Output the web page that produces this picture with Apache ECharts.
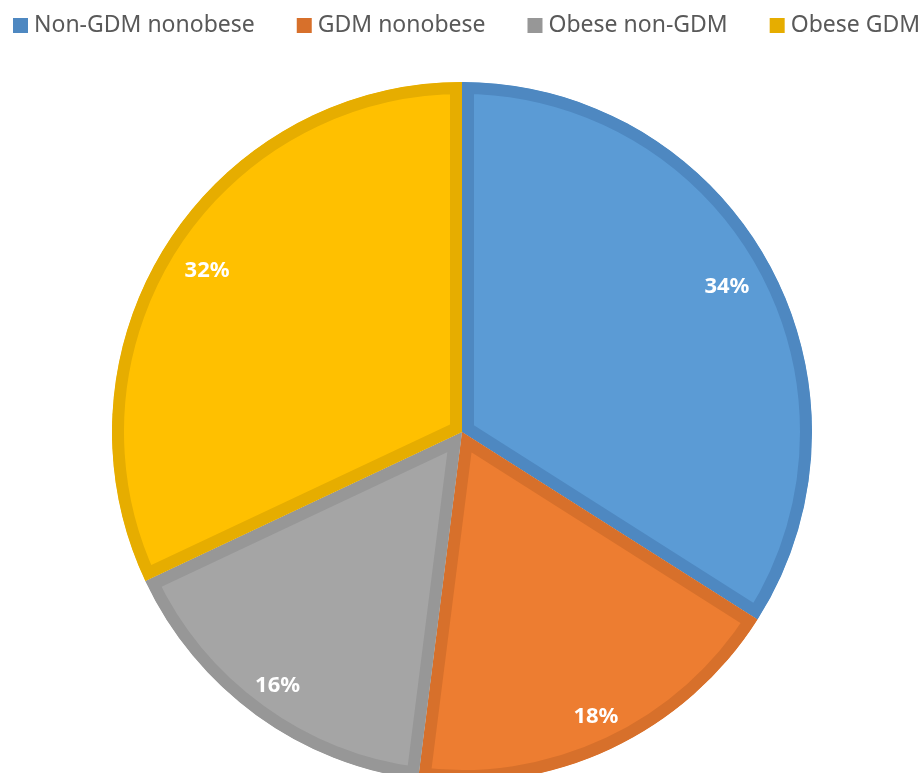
<!DOCTYPE html>
<html>
<head>
<meta charset="utf-8">
<script src="https://cdn.jsdelivr.net/npm/echarts@6/dist/echarts.min.js"></script>
<style>
html, body { margin: 0; padding: 0; background: #fff; }
#main { width: 921px; height: 773px; }
</style>
</head>
<body>
<div id="main"></div>
<script>
var categories = ['Non-GDM nonobese', 'GDM nonobese', 'Obese non-GDM', 'Obese GDM'];
var shares = [34, 18, 16, 32];
var labels = ['34%', '18%', '16%', '32%'];
var fillColors = ['#5B9BD5', '#ED7D31', '#A5A5A5', '#FFC000'];
var edgeColors = ['#4E88C1', '#D7702B', '#979797', '#E6AD00'];

var chartDom = document.getElementById('main');
var myChart = echarts.init(chartDom);
var option;

var total = shares.reduce(function (a, b) { return a + b; }, 0);
var starts = [];
var acc = 0;
shares.forEach(function (v) { starts.push(acc); acc += v; });

// each slice: light fill with a 12px darker band inside its own edges
function renderSlice(idx) {
    return function (params, api) {
        var cs = params.coordSys;
        var a = api.value(0), b = api.value(1);
        var p0 = api.coord([1, a]);
        var p1 = api.coord([1, b]);
        var t0 = Math.atan2(p0[1] - cs.cy, p0[0] - cs.cx);
        var t1 = Math.atan2(p1[1] - cs.cy, p1[0] - cs.cx);
        while (t1 <= t0) t1 += Math.PI * 2;
        var shape = { cx: cs.cx, cy: cs.cy, r0: 0, r: cs.r, startAngle: t0, endAngle: t1, clockwise: true };

        var pm = api.coord([1, (a + b) / 2]);
        var ux = (pm[0] - cs.cx) / cs.r, uy = (pm[1] - cs.cy) / cs.r;
        var d = cs.r * 0.876 + 8.8 * uy;

        return {
            type: 'group',
            children: [{
                type: 'sector',
                shape: shape,
                style: { fill: fillColors[idx], stroke: edgeColors[idx], lineWidth: 24, lineJoin: 'miter' },
                clipPath: { type: 'sector', shape: shape }
            }, {
                type: 'text',
                x: cs.cx + ux * d,
                y: cs.cy + uy * d,
                style: {
                    text: labels[idx],
                    fill: '#fff',
                    fontFamily: 'Noto Sans',
                    fontWeight: 'bold',
                    fontSize: 22,
                    align: 'center',
                    verticalAlign: 'middle'
                }
            }]
        };
    };
}

option = {
    animation: false,
    legend: {
        data: categories,
        left: 13,
        top: 14,
        width: 908,
        padding: 0,
        icon: 'rect',
        itemWidth: 15,
        itemHeight: 15,
        itemGap: 42,
        textStyle: { fontFamily: 'Noto Sans', fontSize: 23, color: '#595959', padding: [0, 0, 0, 1] }
    },
    polar: { center: [462, 432], radius: 350 },
    angleAxis: { type: 'value', min: 0, max: total, startAngle: 90, clockwise: true, show: false },
    radiusAxis: { type: 'value', min: 0, max: 1, show: false },
    series: categories.map(function (name, i) {
        return {
            name: name,
            type: 'custom',
            coordinateSystem: 'polar',
            itemStyle: { color: edgeColors[i] },
            data: [[starts[i], starts[i] + shares[i]]],
            renderItem: renderSlice(i)
        };
    })
};

option && myChart.setOption(option);
</script>
</body>
</html>
